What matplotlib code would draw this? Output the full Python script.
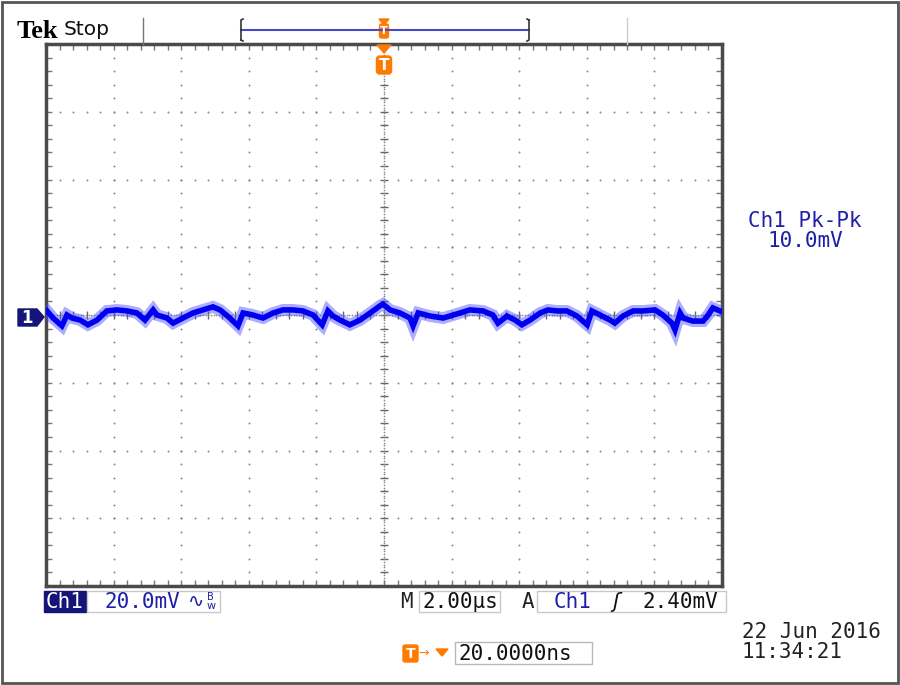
import matplotlib
matplotlib.use("Agg")
import matplotlib.pyplot as plt
from matplotlib.patches import Rectangle, FancyBboxPatch, Polygon
import numpy as np

# Ch1 trace: time in us, level in mV (relative to ch1 ground)
t_us = [-9.97, -9.79, -9.53, -9.38, -9.23, -8.99, -8.76, -8.49, -8.20, -7.90,
        -7.60, -7.31, -7.07, -6.83, -6.72, -6.42, -6.24, -5.95, -5.65, -5.36,
        -5.06, -4.85, -4.56, -4.32, -4.17, -3.88, -3.58, -3.28, -2.99, -2.69,
        -2.40, -2.10, -1.83, -1.66, -1.51, -1.30, -1.01, -0.71, -0.41, -0.12,
        -0.03, 0.18, 0.47, 0.77, 0.86, 1.01, 1.36, 1.75, 1.95, 2.25,
        2.54, 2.93, 3.22, 3.37, 3.64, 3.88, 4.08, 4.32, 4.62, 4.85,
        5.12, 5.41, 5.71, 6.01, 6.15, 6.39, 6.69, 6.83, 7.07, 7.37,
        7.66, 8.02, 8.25, 8.52, 8.61, 8.76, 8.85, 9.14, 9.44, 9.59,
        9.73, 9.94]
ch1_mv = [1.8, -0.3, -2.6, 0.6, -0.3, -0.9, -2.3, -0.9, 1.8, 2.1,
          1.8, 1.2, -0.9, 2.1, 0.6, -0.3, -1.8, -0.3, 1.2, 2.1,
          3.0, 2.1, -0.3, -2.6, 1.2, 0.6, -0.3, 1.2, 2.1, 2.1,
          1.8, 0.6, -2.3, 1.8, 0.3, -0.9, -2.3, -0.9, 1.2, 3.3,
          3.8, 2.1, 1.2, -0.3, -2.6, 1.2, 0.3, -0.3, 0.3, 1.2,
          2.1, 1.8, 0.6, -1.8, 0.3, -0.9, -2.3, -0.9, 1.2, 2.1,
          1.8, 1.8, 0.3, -2.3, 1.8, 0.6, -0.9, -1.8, 0.3, 1.8,
          1.8, 2.1, 0.6, -1.8, -3.8, 1.2, -0.3, -1.2, -1.2, 0.6,
          2.7, 1.8]

mv_per_div = 20.0
us_per_div = 2.0
n_xdiv, n_ydiv = 10, 8
ch1_ground_mv = -0.6   # ground arrow sits a hair under screen centre

readout_pkpk = ["Ch1 Pk-Pk", "10.0mV"]
ch1_scale = "20.0mV"
time_scale = "2.00\u00b5s"
trig_level = "2.40mV"
trig_delay = "20.0000ns"
date_lines = ["22 Jun 2016", "11:34:21"]

BLUE_TXT = "#1f1fa8"
NAVY = "#14147a"
ORANGE = "#ff7a00"
GRID = "#8a8a8a"
MONO = "DejaVu Sans Mono"
FS = 15

W, H = 900, 685
fig = plt.figure(figsize=(W / 100, H / 100), dpi=100)

# ---- graticule / scope screen
gx0, gx1, gy0, gy1 = 46, 722, 44, 586
scope = fig.add_axes([gx0 / W, 1 - gy1 / H, (gx1 - gx0) / W, (gy1 - gy0) / H])
xhalf = n_xdiv / 2 * us_per_div
yhalf = n_ydiv / 2 * mv_per_div
scope.set_xlim(-xhalf, xhalf)
scope.set_ylim(-yhalf, yhalf)

xminor = np.arange(-xhalf, xhalf + 1e-9, us_per_div / 5)
yminor = np.arange(-yhalf, yhalf + 1e-9, mv_per_div / 5)
scope.set_xticks(xminor)
scope.set_yticks(yminor)
scope.tick_params(direction="in", length=4, width=1, color="#777777",
                  top=True, right=True, labelbottom=False, labelleft=False)
for sp in scope.spines.values():
    sp.set_linewidth(2.5)
    sp.set_color("#4a4a4a")

for i in range(1, n_xdiv):
    xv = -xhalf + i * us_per_div
    if abs(xv) < 1e-9:
        continue
    scope.scatter(np.full(len(yminor), xv), yminor, s=2, color=GRID, lw=0, zorder=1)
for j in range(1, n_ydiv):
    yv = -yhalf + j * mv_per_div
    if abs(yv) < 1e-9:
        continue
    scope.scatter(xminor, np.full(len(xminor), yv), s=2, color=GRID, lw=0, zorder=1)
# centre cross with tick marks
scope.plot(np.zeros(len(yminor)), yminor, ls="none", marker="_", ms=6, mew=1, color="#666666", zorder=1)
scope.plot(xminor, np.zeros(len(xminor)), ls="none", marker="|", ms=6, mew=1, color="#666666", zorder=1)
scope.scatter(np.zeros(len(yminor) * 5), np.linspace(-yhalf, yhalf, len(yminor) * 5), s=1.5, color=GRID, lw=0, zorder=1)
scope.scatter(np.linspace(-xhalf, xhalf, len(xminor) * 5), np.zeros(len(xminor) * 5), s=1.5, color=GRID, lw=0, zorder=1)

trace = np.array(ch1_mv) + ch1_ground_mv
scope.plot(t_us, trace, color="#4a4aff", lw=8.5, alpha=0.45, solid_joinstyle="miter", zorder=3)
scope.plot(t_us, trace, color="#0000f0", lw=4, solid_joinstyle="miter", zorder=4)

# ---- everything around the screen, in pixel coords
ov = fig.add_axes([0, 0, 1, 1], zorder=5)
ov.set_xlim(0, W)
ov.set_ylim(H, 0)
ov.patch.set_alpha(0)
ov.axis("off")

ov.add_patch(Rectangle((1.5, 1.5), 896, 681, fill=False, ec="#555555", lw=2))

ov.text(17, 31, "Tek", fontsize=19, fontweight="bold", family="Liberation Serif", va="center", color="#000000")
ov.text(64, 29, "Stop", fontsize=14.5, va="center", color="#111111")
ov.plot([143, 143], [18, 44], color="#777777", lw=1)
ov.plot([627, 627], [18, 44], color="#cccccc", lw=1)

# record view bar
ov.plot([241, 529], [30, 30], color="#4848c8", lw=1.5)
ov.plot([241, 241, 243], [40, 20, 19], color="#333333", lw=1.2)
ov.plot([241, 243], [40, 41], color="#333333", lw=1.2)
ov.plot([529, 529, 527], [20, 40, 41], color="#333333", lw=1.2)
ov.plot([529, 527], [20, 19], color="#333333", lw=1.2)

# trigger position markers
ov.add_patch(Polygon([[379, 19], [389, 19], [384, 25]], color=ORANGE))
ov.add_patch(FancyBboxPatch((379.5, 24), 9, 14, boxstyle="round,pad=0,rounding_size=2", color=ORANGE))
ov.text(384, 31, "T", fontsize=8, color="white", ha="center", va="center", fontweight="bold")
ov.add_patch(Polygon([[377, 45], [391, 45], [384, 53]], color=ORANGE))
ov.add_patch(FancyBboxPatch((376.5, 56), 15, 18, boxstyle="round,pad=0,rounding_size=3", color=ORANGE))
ov.text(384, 65, "T", fontsize=11, color="white", ha="center", va="center", fontweight="bold")

# ch1 ground marker
ov.add_patch(Polygon([[18, 309], [37, 309], [44, 317], [37, 326], [18, 326]], color=NAVY))
ov.text(27, 317.5, "1", fontsize=12, color="white", ha="center", va="center", fontweight="bold")

ov.text(805, 221, readout_pkpk[0], fontsize=FS, family=MONO, color=BLUE_TXT, ha="center", va="center")
ov.text(805, 241, readout_pkpk[1], fontsize=FS, family=MONO, color=BLUE_TXT, ha="center", va="center")

# bottom readouts
ov.add_patch(Rectangle((44, 591), 42, 21, color=NAVY))
ov.text(65, 601.5, "Ch1", fontsize=FS, family=MONO, color="white", ha="center", va="center")
ov.add_patch(Rectangle((87, 591), 133, 21, fill=False, ec="#c8c8c8", lw=1))
ov.text(105, 601.5, ch1_scale, fontsize=FS, family=MONO, color=BLUE_TXT, va="center")
ov.text(188, 601.5, "\u223f", fontsize=14, color=BLUE_TXT, va="center")
ov.text(207, 597, "B", fontsize=7, color=BLUE_TXT, va="center")
ov.text(207, 606, "w", fontsize=8, color=BLUE_TXT, va="center")

ov.text(400, 601.5, "M", fontsize=FS, family=MONO, color="#222222", va="center")
ov.add_patch(Rectangle((419, 591), 81, 21, fill=False, ec="#c8c8c8", lw=1))
ov.text(423, 601.5, time_scale, fontsize=FS, family=MONO, color="#111111", va="center")

ov.text(522, 601.5, "A", fontsize=FS, family=MONO, color="#222222", va="center")
ov.add_patch(Rectangle((537, 591), 189, 21, fill=False, ec="#c8c8c8", lw=1))
ov.text(554, 601.5, "Ch1", fontsize=FS, family=MONO, color=BLUE_TXT, va="center")
ov.text(612, 601.5, "\u0283", fontsize=15, color="#111111", va="center", style="italic")
ov.text(643, 601.5, trig_level, fontsize=FS, family=MONO, color="#111111", va="center")

# trigger delay
ov.add_patch(FancyBboxPatch((403, 645), 15, 17, boxstyle="round,pad=0,rounding_size=2", color=ORANGE))
ov.text(410.5, 653.5, "T", fontsize=10, color="white", ha="center", va="center", fontweight="bold")
ov.text(418, 653, "\u2192", fontsize=9, color=ORANGE, va="center")
ov.add_patch(Polygon([[436, 649], [448, 649], [442, 656]], color=ORANGE))
ov.add_patch(Rectangle((455, 642), 137, 22, fill=False, ec="#b8b8b8", lw=1))
ov.text(459, 653.5, trig_delay, fontsize=FS, family=MONO, color="#111111", va="center")

ov.text(742, 632, date_lines[0], fontsize=FS, family=MONO, color="#222222", va="center")
ov.text(742, 652, date_lines[1], fontsize=FS, family=MONO, color="#222222", va="center")

fig.savefig("out.png", dpi=100)
